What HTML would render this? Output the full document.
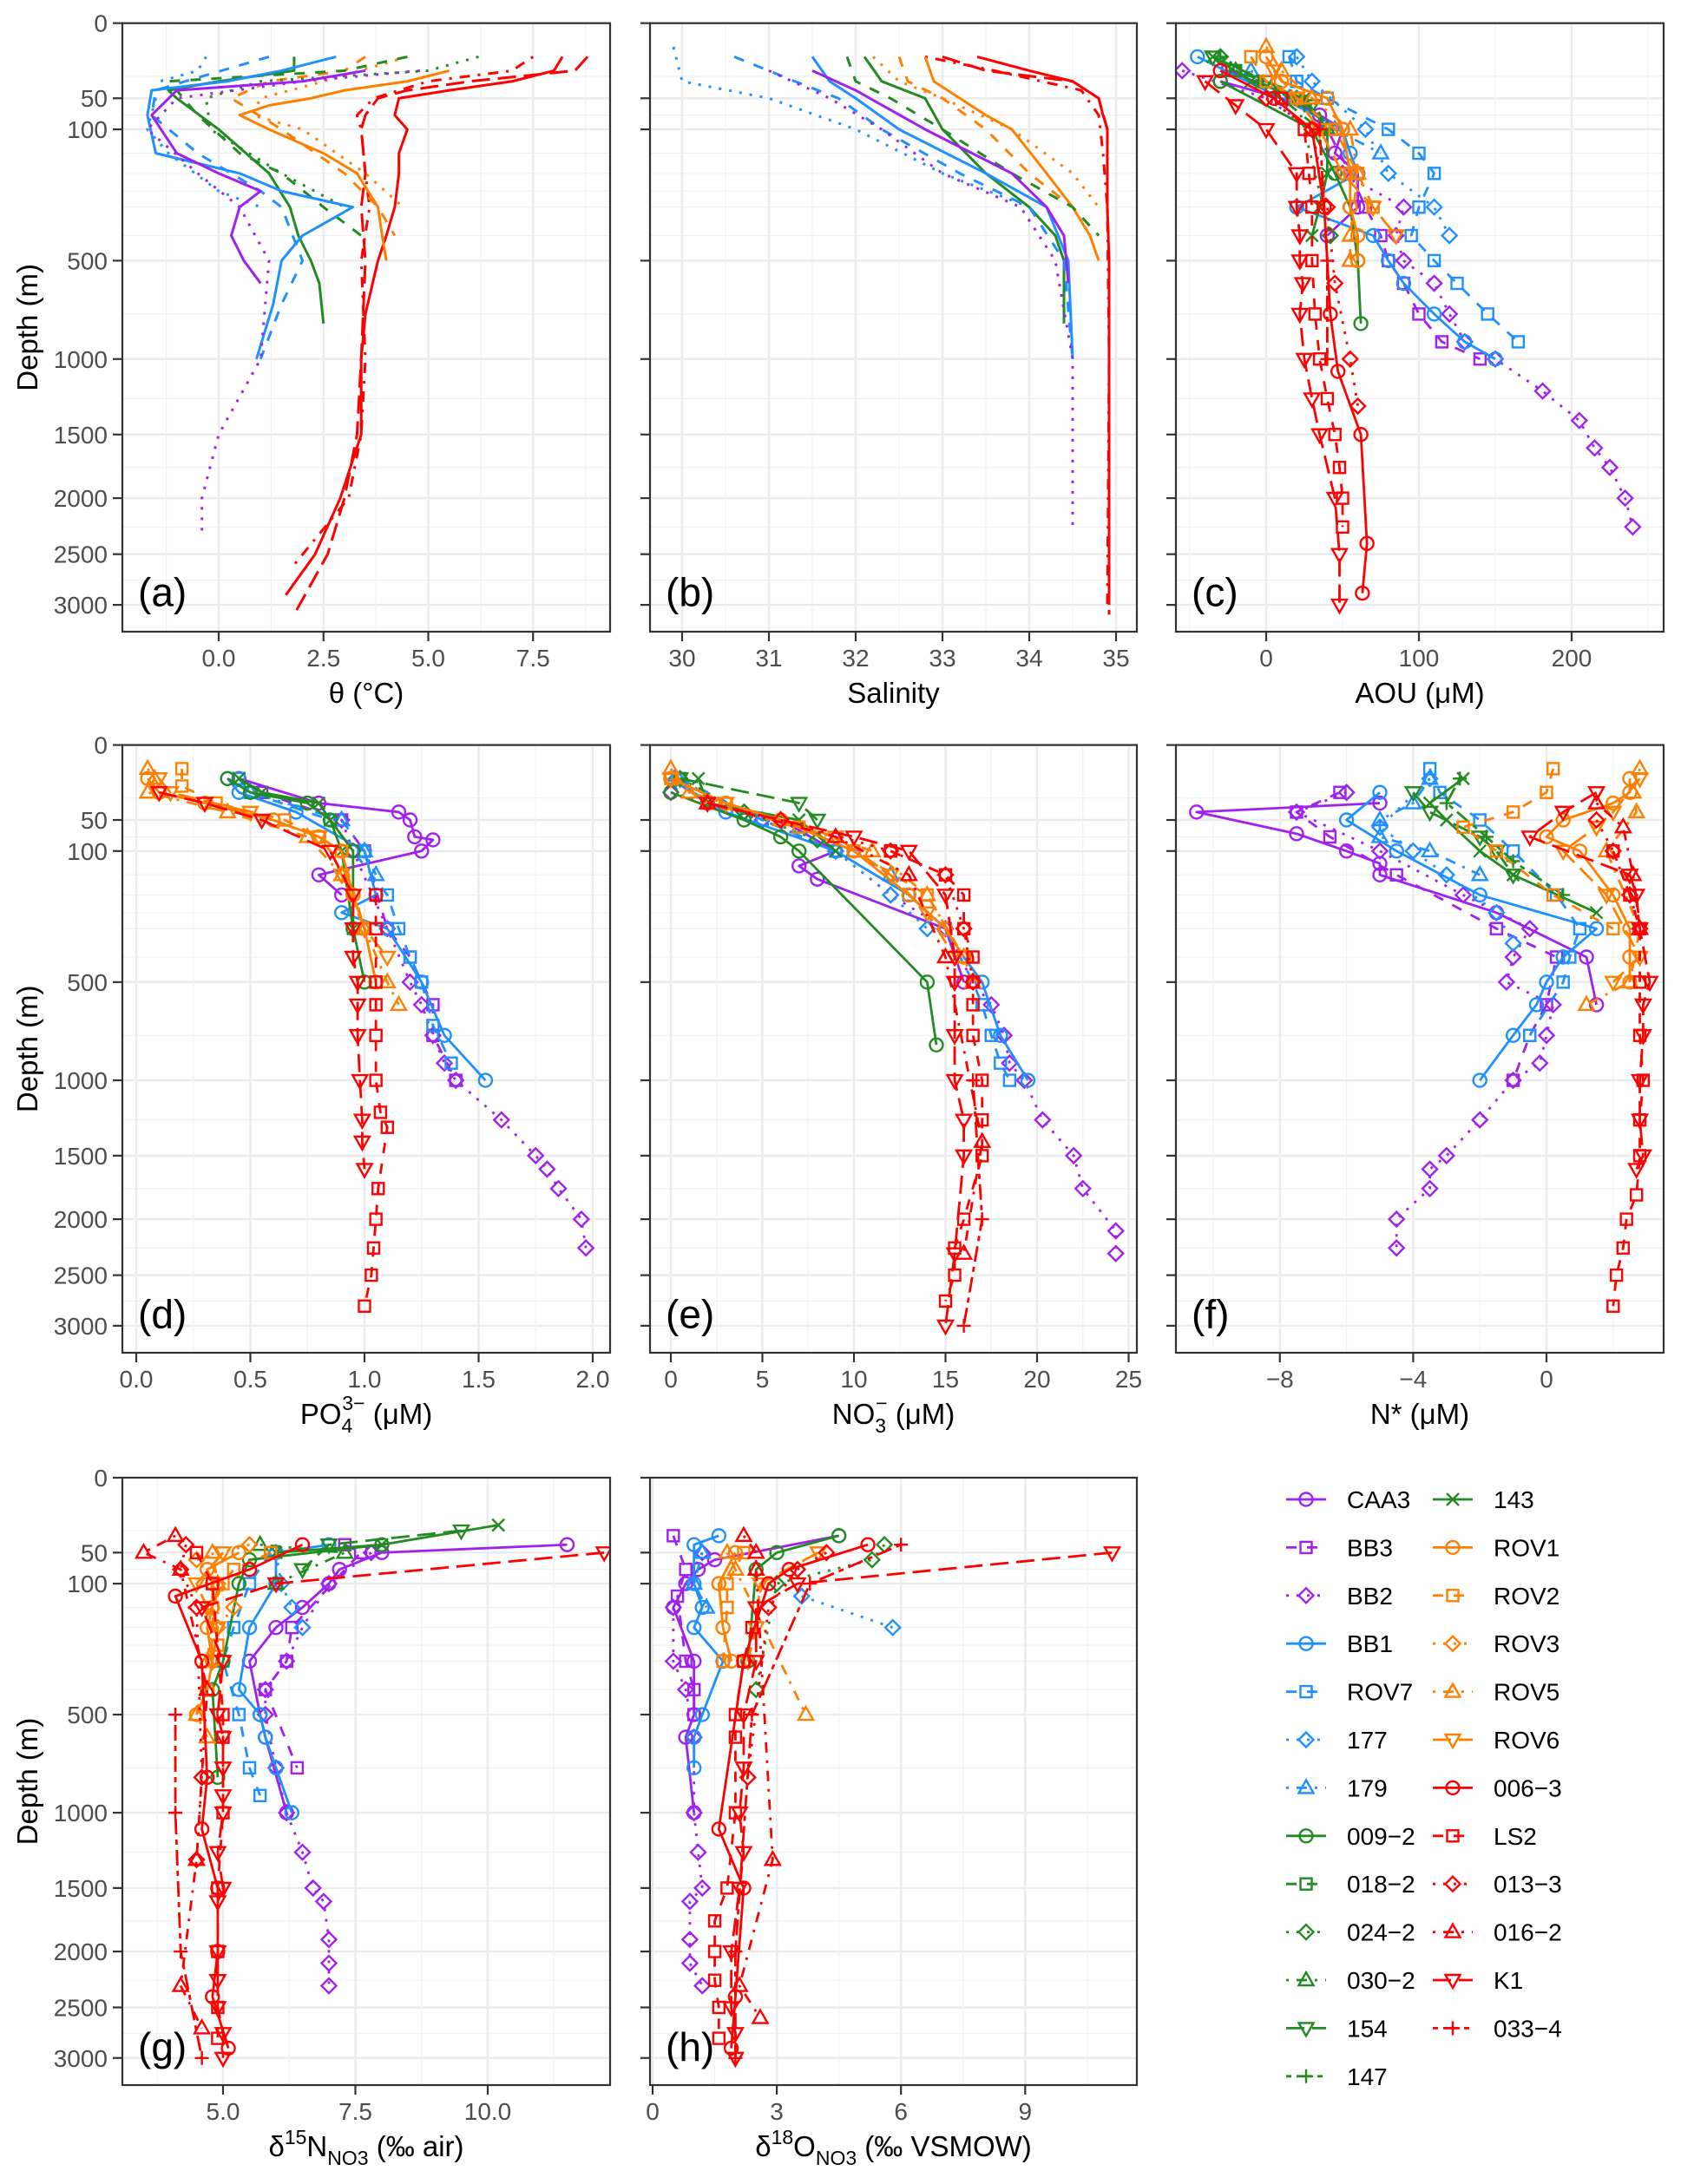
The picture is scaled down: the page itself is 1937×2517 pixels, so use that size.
<!DOCTYPE html>
<html><head><meta charset="utf-8"><title>Ocean profiles</title>
<style>
html,body{margin:0;padding:0;background:#fff;}
svg{display:block;font-family:"Liberation Sans",Arial,sans-serif;}
</style></head>
<body>
<svg id="chart" xmlns="http://www.w3.org/2000/svg" width="1937" height="2517" viewBox="0 0 1937 2517">
<rect x="0" y="0" width="1937" height="2517" fill="#fff"/>
</svg>
<script>
// ---- Panel (a) theta, CTD lines: [color, lty, depths, values]
const thetaSeries = [
 ["red","solid",[10,20,30,40,50,75,100,150,200,300,400,500,750,1000,1500,2000,2500,2900],[8.2,8.0,7.0,5.5,4.3,4.2,4.5,4.3,4.3,4.2,4.0,3.8,3.5,3.4,3.4,2.9,2.3,1.6]],
 ["red","longdash",[10,20,30,40,50,75,100,200,300,500,1000,1500,2000,2500,3100],[8.8,8.5,6.0,4.5,3.8,3.5,3.4,3.5,3.4,3.5,3.4,3.3,3.0,2.6,1.8]],
 ["red","dotdash",[10,20,30,50,75,100,200,300,500,1000,1500,2000,2600],[7.5,7.0,5.0,3.7,3.3,3.4,3.5,3.6,3.4,3.5,3.4,3.1,1.8]],
 ["orange","solid",[20,30,40,50,60,75,100,150,200,300,400,500],[5.5,4.5,3.0,2.2,1.2,0.5,1.2,2.5,3.3,3.8,3.9,4.0]],
 ["orange","dashed",[10,20,30,50,100,200,300,400],[3.5,3.0,1.2,0.3,1.5,3.0,3.8,4.2]],
 ["orange","dotted",[10,30,50,75,100,200,300],[4.5,2.5,1.0,0.8,2.0,3.5,4.4]],
 ["green","solid",[10,20,30,40,50,100,200,300,400,500,600,800],[1.8,1.8,0.0,-1.2,-1.0,0.0,1.2,1.7,1.9,2.2,2.4,2.5]],
 ["green","dashed",[10,20,30,40,75,150,200,300,400],[4.5,3.0,-1.2,-1.0,-0.5,0.5,1.5,2.5,3.4]],
 ["green","dotted",[10,20,30,50,100,200,300],[6.2,5.0,1.0,-0.3,-0.2,1.5,3.0]],
 ["blue","solid",[10,20,30,40,75,150,200,250,300,400,500,700,1000],[2.8,1.5,0.2,-1.6,-1.7,-1.5,0.5,1.5,3.2,2.0,1.5,1.3,0.9]],
 ["blue","dashed",[10,30,40,75,150,250,300,500,700,1000],[1.2,-0.8,-1.5,-1.6,-0.5,1.0,1.5,2.0,1.5,1.0]],
 ["blue","dotted",[10,20,30,50,100,150,250,300],[-0.3,-0.5,-1.4,-1.5,-1.7,-1.2,0.0,1.0]],
 ["purple","solid",[20,30,40,75,150,200,250,300,400,500,600],[3.5,2.0,-1.0,-1.6,-1.0,0.0,1.0,0.5,0.3,0.6,1.0]],
 ["purple","dotted",[20,30,50,100,200,300,500,1000,1500,2000,2300],[4.8,2.0,-1.0,-1.7,-0.5,0.5,1.2,1.0,0.0,-0.4,-0.4]]
];
// ---- Panel (b) salinity
const salSeries = [
 ["red","solid",[10,20,30,50,75,100,200,300,500,1000,2000,3000],[33.4,34.0,34.5,34.8,34.85,34.9,34.9,34.9,34.92,34.92,34.92,34.92]],
 ["red","longdash",[10,20,30,50,100,300,500,3100],[33.0,33.5,34.5,34.8,34.9,34.9,34.92,34.92]],
 ["red","dotdash",[10,20,40,75,150,300,1000,3000],[32.8,33.6,34.6,34.8,34.85,34.9,34.92,34.9]],
 ["orange","solid",[10,30,50,75,100,200,300,400,500],[32.8,32.9,33.2,33.5,33.8,34.2,34.5,34.7,34.8]],
 ["orange","dashed",[10,30,50,100,200,300,400],[32.5,32.6,33.0,33.5,34.0,34.5,34.8]],
 ["orange","dotted",[10,30,50,100,200,300],[32.2,32.5,33.0,33.8,34.5,34.8]],
 ["green","solid",[10,30,50,100,200,300,400,500,800],[32.1,32.3,32.8,33.0,33.5,34.0,34.3,34.4,34.4]],
 ["green","dashed",[10,30,50,100,200,300,400],[31.9,32.0,32.4,33.0,33.8,34.5,34.8]],
 ["blue","solid",[10,30,50,100,200,300,500,1000],[31.5,31.7,32.0,32.5,33.5,34.2,34.45,34.5]],
 ["blue","dashed",[10,30,50,100,200,300,500,1000],[30.6,31.3,31.8,32.3,33.2,34.0,34.4,34.5]],
 ["blue","dotted",[5,30,50,100,200,300],[29.9,30.0,31.0,32.0,33.0,34.0]],
 ["purple","solid",[20,40,100,200,300,400,600],[31.5,32.0,32.8,33.8,34.2,34.4,34.45]],
 ["purple","dotted",[20,50,100,200,300,500,1000,2300],[31.0,31.7,32.3,33.0,33.9,34.3,34.5,34.5]]
];
// ---- Panel (c) AOU: [station, depths, values]
const aouSeries = [
 ["CAA3",[30,50,75,100,150,200,300,400],[-30,10,35,50,45,60,60,40]],
 ["BB3",[20,50,100,200,300,400,500,600,750,900,1000],[-25,20,40,55,65,75,80,90,100,115,140]],
 ["BB2",[20,50,100,200,300,400,500,600,750,900,1000,1200,1400,1600,1750,2000,2250],[-55,0,30,50,90,85,90,110,120,130,150,181,205,215,225,235,240]],
 ["BB1",[10,50,100,150,200,300,400,500,600,750,900,1000],[-45,10,50,55,60,20,70,80,90,110,130,150]],
 ["ROV7",[10,30,50,100,150,200,300,400,500,600,750,900],[15,20,40,80,100,110,100,95,110,125,145,165]],
 ["177",[10,30,100,200,300,400],[20,30,65,80,110,120]],
 ["179",[20,50,100,150],[-10,15,45,75]],
 ["009-2",[30,100,200,300,500,800],[-30,30,45,55,60,62]],
 ["018-2",[20,50,100],[-20,10,35]],
 ["143",[10,30,50,100,200,300,400],[-35,-10,25,40,40,35,30]],
 ["147",[10,30,60],[-30,-5,25]],
 ["154",[10,30,60],[-35,0,30]],
 ["030-2",[20,50,100],[-20,30,40]],
 ["024-2",[10,50,400],[-30,20,42]],
 ["ROV1",[10,30,50,100,200,300,400,500],[0,10,40,50,55,55,60,60]],
 ["ROV2",[10,30,50,100,200,300],[-10,0,20,45,60,70]],
 ["ROV5",[5,20,50,100,200,400,500],[0,10,30,55,60,55,55]],
 ["ROV6",[20,50,100,200,300,400],[5,20,35,50,70,85]],
 ["006-3",[20,50,100,300,750,1075,1500,2400,2880],[-30,5,30,38,42,47,62,66,63]],
 ["LS2",[50,100,200,300,500,750,1000,1250,1500,1750,2000,2250],[10,25,28,30,30,32,35,40,45,48,50,50]],
 ["K1",[30,60,100,200,300,400,500,600,750,1000,1250,1500,2000,2500,3000],[-40,-20,0,20,20,22,22,24,22,25,30,35,45,48,48]],
 ["013-3",[50,100,300,600,1000,1300],[0,30,40,45,55,60]],
 ["033-4",[100,500,1000],[35,40,40]]
];
// ---- Panel (d) PO4
const po4Series = [
 ["CAA3",[10,30,40,50,75,80,100,150,200],[0.45,0.8,1.15,1.2,1.22,1.3,1.25,0.8,0.9]],
 ["BB2",[50,100,300,500,600,750,900,1000,1250,1500,1600,1750,2000,2250],[0.9,0.95,1.1,1.2,1.25,1.3,1.35,1.4,1.6,1.75,1.8,1.85,1.95,1.97]],
 ["BB3",[20,50,100,300,400,500,600,750,1000],[0.55,0.9,1.0,1.1,1.2,1.25,1.3,1.3,1.4]],
 ["BB1",[10,20,40,100,200,250,300,500,750,1000],[0.4,0.45,0.7,1.0,1.05,0.9,1.1,1.25,1.35,1.53]],
 ["ROV7",[10,20,50,100,200,300,400,500,700,900],[0.45,0.5,0.85,0.95,1.1,1.15,1.2,1.25,1.3,1.38]],
 ["179",[20,50,100,150],[0.5,0.9,1.0,1.05]],
 ["009-2",[10,20,30,50,100,200,300,500],[0.4,0.5,0.75,0.85,0.95,0.95,0.95,1.0]],
 ["143",[10,20,30,50,100,300],[0.45,0.55,0.8,0.85,0.9,0.95]],
 ["ROV1",[10,20,30,50,75,100,200,300,500],[0.05,0.1,0.3,0.6,0.8,0.9,0.95,1.0,1.05]],
 ["ROV2",[5,15,30,50,75,100,300,500],[0.2,0.2,0.35,0.65,0.8,0.9,1.0,1.05]],
 ["ROV5",[5,10,20,40,75,150,300,500,600],[0.05,0.08,0.05,0.4,0.75,0.9,1.0,1.1,1.15]],
 ["ROV6",[10,20,40,75,100,150,300,400],[0.1,0.15,0.5,0.8,0.85,0.9,1.0,1.1]],
 ["LS2",[200,300,500,600,750,1000,1200,1300,1750,2000,2250,2500,2800],[1.05,1.05,1.05,1.05,1.05,1.05,1.07,1.1,1.06,1.05,1.04,1.03,1.0]],
 ["K1",[20,30,50,100,200,300,400,500,600,750,1000,1250,1400,1600],[0.1,0.3,0.55,0.85,0.95,0.95,0.95,0.97,0.97,0.97,0.98,0.99,0.99,1.0]]
];
// ---- Panel (e) NO3
const no3Series = [
 ["CAA3",[10,30,50,100,130,160,300,500],[0,2,6,9,7,8,15,16]],
 ["BB2",[20,50,100,200,300,500,600,750,900,1000,1250,1500,1750,2100,2300],[0,5,9,12,15,16.5,17.5,18.2,18.5,19.3,20.3,22,22.5,24.3,24.3]],
 ["BB1",[10,40,100,200,300,400,500,750,1000],[0,3,9,13,15,16,17,18,19.5]],
 ["ROV7",[10,50,100,200,300,500,600,750,900,1000],[0.5,5,9,13,15,16.5,17,17.5,18,18.5]],
 ["177",[10,40,100,200,300],[0.3,4,9,12,14]],
 ["179",[10,30,60,100,150],[0.2,2,7,10,12]],
 ["009-2",[20,50,75,100,500,800],[0,4,6,7,14,14.5]],
 ["024-2",[10,40,80],[0.5,4,8]],
 ["143",[10,30,50,100],[1.5,2,7,9]],
 ["154",[10,30,50],[0.5,7,8]],
 ["ROV1",[10,30,50,100,200,300,400],[0,3,6,10,13,15,16]],
 ["ROV2",[10,30,60,100,200,400],[0,2,7,10,14,16]],
 ["ROV5",[5,20,50,100,200,400,500],[0,1,6,11,14,16,16.5]],
 ["ROV6",[10,30,75,150,250,400],[0,3,9,12,14,15.5]],
 ["LS2",[100,150,200,300,400,500,600,750,1000,1250,1500,2000,2250,2500,2750],[12,15,16,16,16.5,16.5,16.5,16.5,17,17,17,16,15.5,15.5,15]],
 ["K1",[30,75,100,200,400,500,750,1000,1250,1500,2300,3000],[2,10,13,15,15.5,15.5,15.5,15.5,16,16,15.5,15]],
 ["016-2",[30,75,150,400,1400,2300],[2,9,13,15,17,16]],
 ["033-4",[1000,2000,3000],[16.5,17,16]],
 ["013-3",[50,100,150,300,500],[6,12,15,16,16.5]]
];
// ---- Panel (f) N*
const nstarSeries = [
 ["CAA3",[30,40,70,100,125,150,250,400,600],[-5,-10.5,-7.5,-6,-5,-5,-1.5,1.2,1.5]],
 ["BB3",[20,40,75,150,300,400,600,750,1000],[-6.2,-7.5,-6.5,-4.5,-1.5,0.3,0,-0.5,-1.0]],
 ["BB2",[20,40,100,200,300,400,500,600,750,900,1000,1250,1500,1600,1750,2000,2250],[-6,-7.5,-5,-2.5,-0.5,-1.0,-1.2,0.2,0,-0.2,-1.0,-2,-3,-3.5,-3.5,-4.5,-4.5]],
 ["BB1",[20,50,100,200,300,400,500,600,750,1000],[-5,-6,-4.5,-2.0,1.5,0.5,0,-0.3,-1.0,-2.0]],
 ["177",[10,60,100,150,250,350],[-3.5,-5,-4,-3,-1.5,-1]],
 ["179",[10,30,50,75,100,150],[-3.5,-4,-5,-5,-3.5,-2.0]],
 ["ROV7",[5,20,50,100,200,300,400,500,750],[-3.5,-3.2,-2,-1,0.3,1,0.7,0.5,-0.5]],
 ["143",[10,30,50,100,150,250],[-2.5,-3.5,-3,-2,-1,1.5]],
 ["147",[10,30,75,120,200],[-2.6,-3,-1.8,-1,0.5]],
 ["154",[20,40,75,100,150],[-4,-3.5,-2,-1.5,-1]],
 ["ROV1",[10,20,30,50,75,100,200,300,400,500],[2.5,2.5,2.0,0.5,0,1,2,2.5,2.5,2.5]],
 ["ROV2",[5,20,40,60,100,200,300],[0.2,0,-1,-2.5,-1.5,0.2,2.0]],
 ["ROV5",[5,20,40,100,300,500,600],[2.8,2.6,2.7,1.8,2.8,2.5,1.2]],
 ["ROV6",[10,40,60,100,200,400,500],[2.8,2,1.5,0.5,1.8,2.8,2.0]],
 ["013-3",[50,100,200,300],[1.5,2,2.5,2.8]],
 ["016-2",[30,60,150,300],[1.5,2.3,2.6,2.8]],
 ["LS2",[100,200,300,500,750,1000,1250,1500,1800,2000,2250,2500,2800],[2,2.5,2.8,2.8,2.8,2.9,2.8,2.8,2.7,2.4,2.3,2.1,2.0]],
 ["K1",[20,40,75,150,200,300,500,600,750,1000,1250,1500,1600],[1.5,0.5,-0.5,2.5,2.7,2.8,3.1,2.9,2.9,2.8,2.8,2.9,2.7]]
];
// ---- Panel (g) d15N
const d15Series = [
 ["CAA3",[40,50,75,100,150,200,300,500,600,1000],[11.5,8,7.2,7,6.5,6,5.5,5.7,5.8,6.2]],
 ["BB3",[40,50,200,300,400,750],[7.3,7.6,6.3,6.2,5.8,6.4]],
 ["BB2",[50,100,200,300,400,500,750,1000,1250,1500,1600,1900,2100,2300],[7.8,7,6.5,6.2,5.8,5.8,6,6.2,6.5,6.7,6.9,7,7,7]],
 ["BB1",[40,50,100,200,400,500,600,750,1000],[7,6,6,5.5,5.3,5.7,5.8,6,6.3]],
 ["ROV7",[50,100,200,300,500,750,900],[5.9,5.5,5.2,5.0,5.3,5.5,5.7]],
 ["177",[50,100,150,200],[6,6.1,6.3,6.5]],
 ["143",[20,40,50],[10.2,8,6]],
 ["154",[25,40,75],[9.5,7,6.5]],
 ["009-2",[40,60,100,300,400,800],[8,5.5,5.3,5.0,4.8,4.9]],
 ["030-2",[40,50,100],[5.7,7.3,6]],
 ["ROV1",[50,75,100,150,200,300,400,500],[5.3,4.7,4.8,4.8,4.7,4.8,4.7,4.5]],
 ["ROV2",[50,75,100,150,250],[5.9,5.2,5.0,4.8,4.9]],
 ["ROV3",[40,60,100,150,200],[5.5,4.5,4.9,5.2,4.9]],
 ["ROV5",[50,100,300,500,600],[4.8,4.9,4.7,4.5,4.7]],
 ["ROV6",[50,100,150,200,300],[5.0,4.5,4.7,4.9,4.8]],
 ["013-3",[40,75,150,800,1300],[4.3,4.2,4.5,4.6,4.5]],
 ["006-3",[40,75,125,300,800,1100,1500,2000,2400,2900],[6.5,5.5,4.1,4.6,4.7,4.6,4.9,4.9,4.8,5.1]],
 ["K1",[50,100,150,300,500,600,750,900,1000,1250,1500,1600,2000,2250,2500,2750,3000],[12.2,6,4.6,5.0,4.9,5.0,5.0,5.0,5.0,4.9,5.0,4.9,4.9,4.9,4.9,5.0,5.0]],
 ["016-2",[30,50,75,400,1300,2300,2700],[4.1,3.5,4.2,4.7,4.5,4.2,4.6]],
 ["033-4",[500,1000,2000,3000],[4.1,4.1,4.2,4.6]],
 ["LS2",[50,100,500,600,1000,1500,2000,2500,2800],[4.5,4.8,5.0,5.0,5.0,4.9,4.9,4.9,4.9]]
];
// ---- Panel (h) d18O
const d18Series = [
 ["CAA3",[30,60,75,100,150,300,500,600,1000],[4.5,1.5,1.1,0.8,0.5,1.0,1.0,0.8,1.0]],
 ["BB3",[30,75,125,300,400,500],[0.5,0.8,0.6,0.8,1.0,1.0]],
 ["BB2",[50,150,300,400,600,1000,1250,1500,1600,1900,2100,2300],[1.2,0.5,0.5,0.8,1.0,1.0,1.1,1.2,0.9,0.9,0.9,1.2]],
 ["BB1",[30,40,100,150,200,300,500,600,750],[1.6,1.0,1.0,1.2,1.0,1.7,1.2,1.0,1.0]],
 ["177",[125,200],[3.6,5.8]],
 ["179",[50,100,150],[1.2,1.0,1.3]],
 ["009-2",[30,50,75,300],[4.5,3,2.5,2.3]],
 ["024-2",[40,60,100,400],[5.6,5.3,3,2.5]],
 ["ROV1",[50,100,200,300],[2.0,1.6,1.7,1.9]],
 ["ROV5",[50,75,500],[1.8,2.0,3.7]],
 ["ROV6",[50,100,200,300],[4,2.6,2.5,2.3]],
 ["ROV2",[50,100,150,300],[2.2,1.8,1.8,1.7]],
 ["013-3",[50,75,150,800],[4.2,3.5,2.8,2.3]],
 ["K1",[50,100,150,300,500,750,1000,1250,1500,2000,2500,2750,3000],[11.1,3.5,2.5,2.5,2.2,2.2,2.1,2.2,2.1,1.9,1.9,2.0,2.0]],
 ["006-3",[40,75,100,300,1100,1500,2400,2900],[5.2,3.3,2.8,2.2,1.6,2.2,2.0,1.9]],
 ["LS2",[200,300,500,600,1000,1500,1750,2000,2250,2500,2800],[2.4,2.2,2.0,2.0,2.0,1.8,1.5,1.5,1.5,1.6,1.6]],
 ["016-2",[30,50,75,1300,2300,2600],[2.2,2.5,2.5,2.9,2.1,2.6]],
 ["033-4",[40,100,500,2000,3000],[6.0,3.8,2.4,2.0,2.0]]
];
// ---- Tick labels
const depthTicks = [0,50,100,500,1000,1500,2000,2500,3000];
const ticksA = [0,2.5,5,7.5];
const ticksB = [30,31,32,33,34,35];
const ticksC = [0,100,200];
const ticksD = [0,0.5,1,1.5,2];
const ticksE = [0,5,10,15,20,25];
const ticksF = [-8,-4,0];
const ticksG = [5,7.5,10];
const ticksH = [0,3,6,9];
const legendNames = ["CAA3","BB3","BB2","BB1","ROV7","177","179","009-2","018-2","024-2","030-2","154","147","143","ROV1","ROV2","ROV3","ROV5","ROV6","006-3","LS2","013-3","016-2","K1","033-4"];

const COL={purple:"#A020F0",blue:"#1E90FF",green:"#228B22",orange:"#FF7F00",red:"#FF0000"};
const DASH={solid:"",dashed:"12,12",dotted:"3,9",dotdash:"3,9,12,9",longdash:"21,9",twodash:"6,6,18,6"};
const STY={
 "CAA3":["purple","solid","circle"],"BB3":["purple","dashed","square"],"BB2":["purple","dotted","diamond"],
 "BB1":["blue","solid","circle"],"ROV7":["blue","dashed","square"],"177":["blue","dotted","diamond"],"179":["blue","dotdash","tri"],
 "009-2":["green","solid","circle"],"018-2":["green","dashed","square"],"024-2":["green","dotted","diamond"],"030-2":["green","dotdash","tri"],
 "154":["green","longdash","dtri"],"147":["green","twodash","plus"],"143":["green","solid","x"],
 "ROV1":["orange","solid","circle"],"ROV2":["orange","dashed","square"],"ROV3":["orange","dotted","diamond"],"ROV5":["orange","dotdash","tri"],"ROV6":["orange","longdash","dtri"],
 "006-3":["red","solid","circle"],"LS2":["red","dashed","square"],"013-3":["red","dotted","diamond"],"016-2":["red","dotdash","tri"],"K1":["red","longdash","dtri"],"033-4":["red","twodash","plus"]
};
const NS="http://www.w3.org/2000/svg";
const svg=document.getElementById('chart');
function mk(tag,attrs,parent){const e=document.createElementNS(NS,tag);for(const k in attrs)e.setAttribute(k,attrs[k]);(parent||svg).appendChild(e);return e;}

const COLS=[[141,703],[749,1310],[1355,1917]];
const ROWS=[[26.7,728,12.24],[858.6,1559,12.22],[1703,2403,12.21]];
const panels=[
 {id:"a",c:0,r:0,px0:252,pu:48.3,v0:0,ticks:ticksA,fmt:v=>v.toFixed(1),title:"θ (°C)",ctd:thetaSeries,left:true},
 {id:"b",c:1,r:0,px0:786,pu:100,v0:30,ticks:ticksB,fmt:v=>String(v),title:"Salinity",ctd:salSeries},
 {id:"c",c:2,r:0,px0:1459,pu:1.76,v0:0,ticks:ticksC,fmt:v=>String(v),title:"AOU (μM)",pts:aouSeries},
 {id:"d",c:0,r:1,px0:157,pu:263,v0:0,ticks:ticksD,fmt:v=>v.toFixed(1),title:"PO4",pts:po4Series,left:true},
 {id:"e",c:1,r:1,px0:773,pu:21.1,v0:0,ticks:ticksE,fmt:v=>String(v),title:"NO3",pts:no3Series},
 {id:"f",c:2,r:1,px0:1782,pu:38.4,v0:0,ticks:ticksF,fmt:v=>v<0?"−"+(-v):String(v),title:"N* (μM)",pts:nstarSeries},
 {id:"g",c:0,r:2,px0:257,pu:61,v0:5,ticks:ticksG,fmt:v=>v.toFixed(1),title:"d15",pts:d15Series,left:true},
 {id:"h",c:1,r:2,px0:752,pu:47.7,v0:0,ticks:ticksH,fmt:v=>String(v),title:"d18",pts:d18Series}
];

function marker(g,shape,x,y,col){
 const s={fill:"none",stroke:col,"stroke-width":2.4};const r=7.5;
 let e;
 if(shape==="circle") e=mk("circle",Object.assign({cx:x,cy:y,r:r},s),g);
 else if(shape==="square") e=mk("rect",Object.assign({x:x-6.5,y:y-6.5,width:13,height:13},s),g);
 else if(shape==="diamond") e=mk("polygon",Object.assign({points:`${x},${y-8.5} ${x+8.5},${y} ${x},${y+8.5} ${x-8.5},${y}`},s),g);
 else if(shape==="tri") e=mk("polygon",Object.assign({points:`${x},${y-9} ${x+8.5},${y+6} ${x-8.5},${y+6}`},s),g);
 else if(shape==="dtri") e=mk("polygon",Object.assign({points:`${x},${y+9} ${x+8.5},${y-6} ${x-8.5},${y-6}`},s),g);
 else if(shape==="plus") e=mk("path",Object.assign({d:`M${x-8},${y}H${x+8}M${x},${y-8}V${y+8}`},s),g);
 else e=mk("path",Object.assign({d:`M${x-7},${y-7}L${x+7},${y+7}M${x-7},${y+7}L${x+7},${y-7}`},s),g);
 
 
}

panels.forEach(p=>{
 const [x0,x1]=COLS[p.c];const [y0,y1,k]=ROWS[p.r];
 const X=v=>p.px0+(v-p.v0)*p.pu;
 const Y=d=>y0+k*Math.sqrt(d);
 const g=mk("g",{});
 
 
 const cp=mk("clipPath",{id:"cp"+p.id},g);mk("rect",{x:x0,y:y0,width:x1-x0,height:y1-y0},cp);
 const minorD=[25,75,150,200,250,300,400,750,1250,1750,2250,2750];
 minorD.forEach(d=>mk("line",{x1:x0,x2:x1,y1:Y(d),y2:Y(d),stroke:"#F0F0F0","stroke-width":1.2},g));
 depthTicks.forEach(d=>mk("line",{x1:x0,x2:x1,y1:Y(d),y2:Y(d),stroke:"#EBEBEB","stroke-width":2.4},g));
 const step=p.ticks[1]-p.ticks[0];
 for(let i=-1;i<p.ticks.length;i++){const v=p.ticks[0]+(i+0.5)*step;const xx=X(v);if(xx>x0&&xx<x1)mk("line",{x1:xx,x2:xx,y1:y0,y2:y1,stroke:"#F2F2F2","stroke-width":1.2},g);}
 p.ticks.forEach(v=>mk("line",{x1:X(v),x2:X(v),y1:y0,y2:y1,stroke:"#EBEBEB","stroke-width":2.4},g));
 const dg=mk("g",{"clip-path":`url(#cp${p.id})`},g);
 if(p.ctd){
  p.ctd.forEach(s=>{
   const pl=mk("polyline",{points:s[2].map((d,i)=>X(s[3][i])+","+Y(d)).join(" "),fill:"none",stroke:COL[s[0]],"stroke-width":3,"stroke-dasharray":DASH[s[1]],"stroke-linejoin":"round"},dg);
   
   
  });
 } else {
  p.pts.forEach(s=>{
   const st=STY[s[0]];const col=COL[st[0]];
   const pl=mk("polyline",{points:s[1].map((d,i)=>X(s[2][i])+","+Y(d)).join(" "),fill:"none",stroke:col,"stroke-width":2.8,"stroke-dasharray":DASH[st[1]],"stroke-linejoin":"round"},dg);
   
   
   s[1].forEach((d,i)=>marker(dg,st[2],X(s[2][i]),Y(d),col));
  });
 }
 mk("rect",{x:x0,y:y0,width:x1-x0,height:y1-y0,fill:"none",stroke:"#333","stroke-width":2.2},g);
 depthTicks.forEach(d=>{
  mk("line",{x1:x0-11,x2:x0,y1:Y(d),y2:Y(d),stroke:"#333","stroke-width":2.2},g);
  if(p.left){const t=mk("text",{x:x0-17,y:Y(d)+10,"text-anchor":"end","font-size":28,fill:"#4D4D4D"},g);t.textContent=d;
   
   }
 });
 p.ticks.forEach(v=>{
  mk("line",{x1:X(v),x2:X(v),y1:y1,y2:y1+11,stroke:"#333","stroke-width":2.2},g);
  const t=mk("text",{x:X(v),y:y1+40,"text-anchor":"middle","font-size":28,fill:"#4D4D4D"},g);t.textContent=p.fmt(v);
  
  
 });
 const lt=mk("text",{x:x0+18,y:y0+672,"font-size":46,fill:"#000"},g);lt.textContent="("+p.id+")";
 
 
 const tt=mk("text",{x:(x0+x1)/2,y:y1+82,"text-anchor":"middle","font-size":33,fill:"#000"},g);
 
 
 if(p.title==="PO4") tt.innerHTML='PO<tspan dy="10" font-size="23">4</tspan><tspan dy="-26" dx="-12" font-size="23">3−</tspan><tspan dy="16"> (μM)</tspan>';
 else if(p.title==="NO3") tt.innerHTML='NO<tspan dy="10" font-size="23">3</tspan><tspan dy="-26" dx="-12" font-size="23">−</tspan><tspan dy="16"> (μM)</tspan>';
 else if(p.title==="d15") tt.innerHTML='δ<tspan dy="-14" font-size="23">15</tspan><tspan dy="14">N</tspan><tspan dy="10" font-size="23">NO3</tspan><tspan dy="-10"> (‰ air)</tspan>';
 else if(p.title==="d18") tt.innerHTML='δ<tspan dy="-14" font-size="23">18</tspan><tspan dy="14">O</tspan><tspan dy="10" font-size="23">NO3</tspan><tspan dy="-10"> (‰ VSMOW)</tspan>';
 else tt.textContent=p.title;
 if(p.left){
  const yt=mk("text",{x:0,y:0,transform:`translate(43,${(y0+y1)/2}) rotate(-90)`,"text-anchor":"middle","font-size":33,fill:"#000"},g);
  yt.textContent="Depth (m)";
  
  
 }
});

const lg=mk("g",{});


legendNames.forEach((n,i)=>{
 const col=i<13?0:1;const row=i<13?i:i-13;
 const cx=col?1674:1505;const y=1728+row*55.4;
 const st=STY[n];const c=COL[st[0]];
 const e=mk("g",{},lg);
 
 
 mk("line",{x1:cx-23,x2:cx+23,y1:y,y2:y,stroke:c,"stroke-width":2.8,"stroke-dasharray":DASH[st[1]]},e);
 marker(e,st[2],cx,y,c);
 const t=mk("text",{x:col?1721:1552,y:y+10,"font-size":28,fill:"#000"},e);t.textContent=n.replace("-","−");
});
</script>
</body></html>
